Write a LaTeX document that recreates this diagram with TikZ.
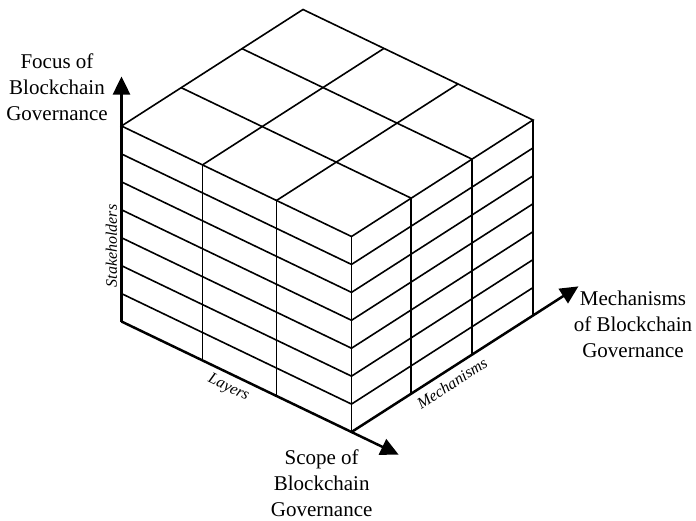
\documentclass[tikz,border=0pt]{standalone}
\usepackage{fontspec}
\setmainfont{Liberation Serif}
\usetikzlibrary{arrows.meta,calc}
\begin{document}
\begin{tikzpicture}[x=1pt,y=-1pt,
  grid/.style={line width=1.6pt,line join=miter},
  axis/.style={line width=2.5pt,-{Triangle[length=18pt,width=17pt]}},
  biglabel/.style={font=\fontsize{21}{26}\selectfont,align=center,anchor=base,inner sep=0pt},
  axlabel/.style={font=\fontsize{16}{18}\selectfont\itshape,inner sep=0pt}]
\useasboundingbox (0,0) rectangle (696,520);
% cube corners
\coordinate (L) at (121.5,126);
\coordinate (F) at (351.5,236.5);
\coordinate (R) at (533,120);
\coordinate (T) at (303,9.5);
\coordinate (Lb) at (121.5,321.5);
\coordinate (Fb) at (351.5,432);
\coordinate (Rb) at (533,315.5);
% column points
\coordinate (A1) at ($(L)!0.352!(F)$);
\coordinate (A2) at ($(L)!0.674!(F)$);
\coordinate (B1) at ($(F)!0.329!(R)$);
\coordinate (B2) at ($(F)!0.664!(R)$);
\coordinate (C1) at ($(T)!0.352!(R)$);
\coordinate (C2) at ($(T)!0.674!(R)$);
\coordinate (D1) at ($(L)!0.329!(T)$);
\coordinate (D2) at ($(L)!0.664!(T)$);
% top face
\draw[grid] (L) -- (T) -- (R) -- (F) -- cycle;
\draw[grid] (A1) -- (C1);
\draw[grid] (A2) -- (C2);
\draw[grid] (B1) -- (D1);
\draw[grid] (B2) -- (D2);
% layer lines
\foreach \k in {1,...,6}{
  \draw[grid] ($(L)+(0,\k*27.93)$) -- ($(F)+(0,\k*27.93)$) -- ($(R)+(0,\k*27.93)$);
}
% vertical lines
\draw[grid] (F) -- (Fb);
\draw[grid] (A1) -- ($(A1)+(0,195.5)$);
\draw[grid] (A2) -- ($(A2)+(0,195.5)$);
\draw[grid] (B1) -- ($(B1)+(0,195.5)$);
\draw[grid] (B2) -- ($(B2)+(0,195.5)$);
\draw[grid] (R) -- (Rb);
% axes
\coordinate (tipV) at (121.5,76.5);
\coordinate (tipS) at ($(Lb)!1.205!(Fb)$);
\coordinate (tipM) at ($(Fb)!1.25!(Rb)$);
\draw[axis] (Lb) -- (tipV);
\draw[axis] (Lb) -- (tipS);
\draw[axis] (Fb) -- (tipM);
% labels
\node[biglabel] (focus) at (57,120.5) {Focus of\\Blockchain\\Governance};
\node[biglabel] (mech) at (633,357.5) {Mechanisms\\of Blockchain\\Governance};
\node[biglabel] (scope) at (321.7,516) {Scope of\\Blockchain\\Governance};
\node[axlabel,rotate=90] (stake) at (111.5,246) {Stakeholders};
\node[axlabel,rotate=-25.7] (layers) at (228.5,388) {Layers};
\node[axlabel,rotate=32.7] (mechs) at (452,383) {Mechanisms};
\end{tikzpicture}
\end{document}
